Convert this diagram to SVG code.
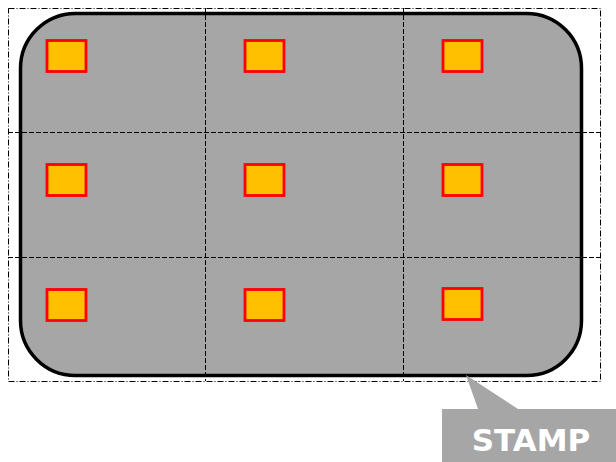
<svg xmlns="http://www.w3.org/2000/svg" width="616" height="462" viewBox="0 0 616 462">
<style>
.frame{fill:none;stroke:#000;stroke-width:1;stroke-dasharray:6,2,1,2}
.grid{fill:none;stroke:#000;stroke-width:1;stroke-dasharray:5,2}
.cell{fill:#ffc000;stroke:#ff0000;stroke-width:2.8}
.txt{font-family:Verdana,"DejaVu Sans",sans-serif;font-weight:bold;font-size:31px;fill:#fff}
</style>
<rect width="616" height="462" fill="#fff"/>
<g id="board">
<rect x="20.5" y="13.5" width="561" height="362" rx="55" ry="55" fill="#a6a6a6" stroke="#000" stroke-width="3.5"/>
</g>
<g id="connectors">
<rect class="frame" x="8.5" y="8.5" width="592" height="373"/>
<line class="grid" x1="205.5" y1="8" x2="205.5" y2="381"/>
<line class="grid" x1="403.5" y1="8" x2="403.5" y2="381"/>
<line class="grid" x1="8" y1="132.5" x2="600" y2="132.5"/>
<line class="grid" x1="8" y1="257.5" x2="600" y2="257.5"/>
</g>
<g id="c11"><rect class="cell" x="47" y="40.5" width="39" height="31"/></g>
<g id="c12"><rect class="cell" x="245" y="40.5" width="39" height="31"/></g>
<g id="c13"><rect class="cell" x="443" y="40.5" width="39" height="31"/></g>
<g id="c21"><rect class="cell" x="47" y="164.5" width="39" height="31"/></g>
<g id="c22"><rect class="cell" x="245" y="164.5" width="39" height="31"/></g>
<g id="c23"><rect class="cell" x="443" y="164.5" width="39" height="31"/></g>
<g id="c31"><rect class="cell" x="47" y="289.5" width="39" height="31"/></g>
<g id="c32"><rect class="cell" x="245" y="289.5" width="39" height="31"/></g>
<g id="c33"><rect class="cell" x="443" y="288.5" width="39" height="31"/></g>
<g id="stamp">
<polygon points="466,375 518,409 616,409 616,462 442,462 442,409 478,409" fill="#a6a6a6"/>
<text class="txt" x="531" y="451" text-anchor="middle">STAMP</text>
</g>
</svg>
